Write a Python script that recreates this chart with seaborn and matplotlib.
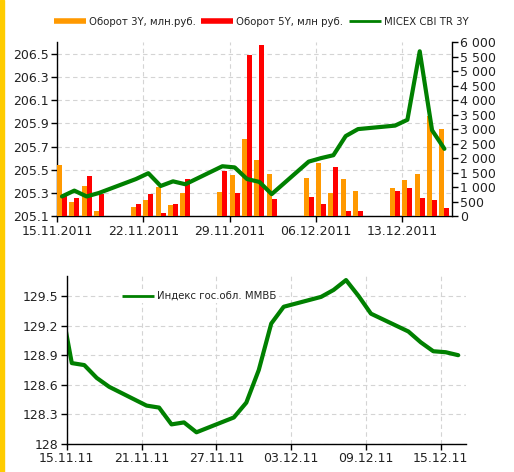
import matplotlib
matplotlib.use("Agg")
import numpy as np
import pandas as pd
import matplotlib.pyplot as plt
import matplotlib.dates as mdates
import seaborn as sns
from matplotlib.lines import Line2D
from matplotlib.patches import Rectangle
from matplotlib.ticker import FuncFormatter, MultipleLocator

# --- data ---
trade_days = ["2011-11-15", "2011-11-16", "2011-11-17", "2011-11-18",
              "2011-11-21", "2011-11-22", "2011-11-23", "2011-11-24", "2011-11-25",
              "2011-11-28", "2011-11-29", "2011-11-30", "2011-12-01", "2011-12-02",
              "2011-12-05", "2011-12-06", "2011-12-07", "2011-12-08", "2011-12-09",
              "2011-12-12", "2011-12-13", "2011-12-14", "2011-12-15", "2011-12-16"]

turnover_3y = [1755, 493, 1055, 195, 310, 562, 1010, 379, 792, 826, 1423, 2650,
               1950, 1457, 1319, 1835, 792, 1273, 860, 975, 1239, 1457, 3442, 2994]
turnover_5y = [780, 642, 1388, 757, 424, 757, 126, 424, 1273, 1572, 792, 5541,
               5897, 608, 677, 424, 1698, 195, 195, 860, 975, 642, 574, 275]
micex_cbi_3y = [205.27, 205.32, 205.27, 205.30, 205.42, 205.47, 205.36, 205.40,
                205.375, 205.53, 205.52, 205.42, 205.395, 205.29, 205.57, 205.60,
                205.625, 205.79, 205.85, 205.88, 205.93, 206.52, 205.84, 205.68]

mmvb_days = ["2011-11-14"] + trade_days
mmvb_index = [129.50, 128.82, 128.80, 128.67, 128.58, 128.39, 128.37, 128.20,
              128.22, 128.12, 128.27, 128.42, 128.75, 129.22, 129.39, 129.49,
              129.56, 129.66, 129.50, 129.32, 129.14, 129.03, 128.94, 128.93, 128.90]

top_ticks = ["2011-11-15", "2011-11-22", "2011-11-29", "2011-12-06", "2011-12-13"]
bottom_ticks = ["2011-11-15", "2011-11-21", "2011-11-27", "2011-12-03",
                "2011-12-09", "2011-12-15"]
top_yticks = [205.1, 205.3, 205.5, 205.7, 205.9, 206.1, 206.3, 206.5]
bottom_yticks = [128, 128.3, 128.6, 128.9, 129.2, 129.5]

# --- style ---
sns.set_theme(style="white")
plt.rcParams["font.family"] = ["DejaVu Sans"]
TXT = "#222222"
GREEN = "#008000"
ORANGE = "#FF9900"
RED = "#FF0000"
GRID = dict(color="#d4d4d4", linestyle=(0, (4, 3)), linewidth=0.8)

def dnum(days):
    return mdates.date2num(pd.to_datetime(days))

x = dnum(trade_days)
x_lo, x_hi = dnum(["2011-11-15", "2011-12-17"])

fig = plt.figure(figsize=(5.14, 4.72), dpi=100)
fig.patches.append(Rectangle((0, 0), 4 / 514, 1, transform=fig.transFigure,
                             color="#FFCC00", zorder=0))

def style_axis(ax):
    for s in ["top", "right"]:
        ax.spines[s].set_visible(False)
    for s in ["left", "bottom"]:
        ax.spines[s].set_color("black")
        ax.spines[s].set_linewidth(1)
    ax.tick_params(direction="out", length=4, width=1, color="black",
                   labelsize=9, labelcolor=TXT, pad=2,
                   bottom=True, left=True)

# --- top chart ---
ax = fig.add_axes([0.111, 0.542, 0.768, 0.369])
style_axis(ax)
ax.set_xlim(x_lo, x_hi)
ax.set_ylim(205.1, 206.6)
ax.set_yticks(top_yticks)
ax.yaxis.set_major_formatter(FuncFormatter(lambda v, p: f"{v:.1f}"))
ax.set_xticks(dnum(top_ticks))
ax.xaxis.set_major_formatter(mdates.DateFormatter("%d.%m.%Y"))
ax.grid(True, **GRID)

ax_bars = ax.twinx()
ax_bars.bar(x + 0.2, turnover_3y, width=0.4, color=ORANGE, linewidth=0)
ax_bars.bar(x + 0.6, turnover_5y, width=0.4, color=RED, linewidth=0)
ax_bars.set_ylim(0, 6000)
ax_bars.set_xlim(x_lo, x_hi)
ax_bars.yaxis.set_major_locator(MultipleLocator(500))
ax_bars.yaxis.set_major_formatter(FuncFormatter(lambda v, p: f"{int(v):,}".replace(",", " ")))
for s in ["top", "left", "bottom"]:
    ax_bars.spines[s].set_visible(False)
ax_bars.spines["right"].set_color("black")
ax_bars.spines["right"].set_linewidth(1)
ax_bars.tick_params(axis="y", direction="out", length=4, width=1, color="black",
                    labelsize=9, labelcolor=TXT, pad=2, right=True)
ax_bars.grid(False)

ax_line = ax.twinx()
sns.lineplot(x=x + 0.4, y=micex_cbi_3y, ax=ax_line, color=GREEN, linewidth=3,
             solid_joinstyle="round", solid_capstyle="round")
ax_line.set_ylim(205.1, 206.6)
ax_line.set_xlim(x_lo, x_hi)
ax_line.set_axis_off()

handles = [Line2D([], [], color=ORANGE, lw=4, solid_capstyle="butt"),
           Line2D([], [], color=RED, lw=4, solid_capstyle="butt"),
           Line2D([], [], color=GREEN, lw=2, solid_capstyle="butt")]
labels = ["Оборот 3Y, млн.руб.", "Оборот 5Y, млн руб.", "MICEX CBI TR 3Y"]
fig.legend(handles, labels, loc="center", bbox_to_anchor=(0.508, 1 - 22 / 472),
           ncol=3, frameon=False, fontsize=7.3, handlelength=3.2,
           columnspacing=0.5, handletextpad=0.3, labelcolor=TXT)

# --- bottom chart ---
ax2 = fig.add_axes([0.130, 0.059, 0.776, 0.356])
style_axis(ax2)
sns.lineplot(x=dnum(mmvb_days) + 0.4, y=mmvb_index, ax=ax2, color=GREEN,
             linewidth=3, solid_joinstyle="round", solid_capstyle="round",
             label="Индекс гос.обл. ММВБ")
ax2.set_xlim(x_lo, x_hi)
ax2.set_ylim(128, 129.7)
ax2.set_yticks(bottom_yticks)
ax2.yaxis.set_major_formatter(FuncFormatter(lambda v, p: f"{v:g}"))
ax2.set_xticks(dnum(bottom_ticks))
ax2.xaxis.set_major_formatter(mdates.DateFormatter("%d.%m.%y"))
ax2.grid(True, **GRID)
ax2.set_axisbelow(True)
ax2.set_xlabel("")
ax2.set_ylabel("")
leg = ax2.legend(loc="center left", bbox_to_anchor=((120 - 67) / 399, (444 - 296) / 168),
                 borderaxespad=0, borderpad=0.2, fontsize=7.3, handlelength=3.2,
                 handletextpad=0.3, frameon=True, fancybox=False, framealpha=1,
                 labelcolor=TXT)
leg.get_frame().set_facecolor("white")
leg.get_frame().set_edgecolor("none")
for ln in leg.get_lines():
    ln.set_linewidth(2)
    ln.set_solid_capstyle("butt")

fig.savefig("out.png", dpi=100)
